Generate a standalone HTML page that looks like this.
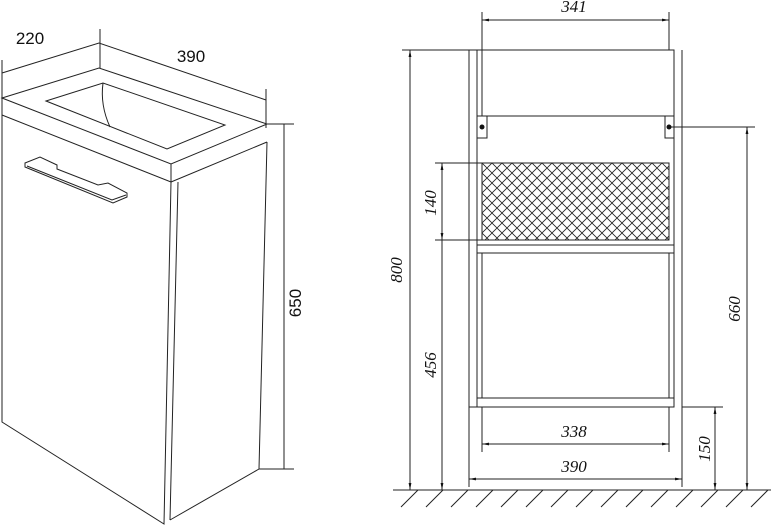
<!DOCTYPE html>
<html><head><meta charset="utf-8"><style>
html,body{margin:0;padding:0;background:#fff;}
svg{display:block;}
.s{font-family:"Liberation Sans",sans-serif;font-size:17px;fill:#111;}
.i{font-family:"Liberation Serif",serif;font-style:italic;font-size:17px;fill:#111;}
</style></head><body>
<svg width="771" height="526" viewBox="0 0 771 526" xmlns="http://www.w3.org/2000/svg">
<defs>
<pattern id="hatch" width="10" height="10" patternUnits="userSpaceOnUse" x="482" y="163">
<path d="M0 0L10 10M10 0L0 10" stroke="#222" stroke-width="0.8"/>
</pattern>
<marker id="a" viewBox="0 0 10 10" refX="10" refY="5" markerWidth="7" markerHeight="7" orient="auto-start-reverse"><path d="M0 3L10 5L0 7z" fill="#111"/></marker>
</defs>
<g fill="none" stroke="#222" stroke-width="1">
<!-- left iso view -->
<path d="M2 60V115M100 29V68M266 89V128M2 73L99 43L266 100"/>
<path d="M2 98L99 68L267 124L171 164Z"/>
<path d="M2 115L171 182V164M171 182L267 142"/>
<path d="M46 101L103 83L225 125L167 149Z"/>
<path d="M103 83Q100 105 110 127"/>
<path d="M25 163L40 157L57 165L57 169L98 185L108 183L127 193L127 197L113 203L25 167Z"/>
<path d="M27 166L112 200L126 195"/>
<path d="M2 115V422L164 524L171 182M178 182L170 520M267 142L259 469L170 520"/>
<path d="M266 124H294M259 469H294M284 124V469"/>
<!-- right elevation -->
<path d="M482 12V116M669 12V50"/>
<path d="M482 20H669" marker-start="url(#a)" marker-end="url(#a)"/>
<rect x="477" y="50" width="197" height="66"/>
<path d="M469 50V407H477V50M674 116V407M682 50V408"/>
<path d="M477 116H487V138H477M674 116H665V138H674"/>
<path d="M669 127H755"/>
<rect x="477" y="245" width="197" height="8"/>
<path d="M482 253V398M669 253V398"/>
<rect x="477" y="398" width="197" height="9"/>
<path d="M482 407V452M669 407V452M469 407V487M682 408V487"/>
<path d="M482 444H669" marker-start="url(#a)" marker-end="url(#a)"/>
<path d="M469 479H682" marker-start="url(#a)" marker-end="url(#a)"/>
<path d="M682 407H723"/>
<path d="M715 407V490" marker-start="url(#a)" marker-end="url(#a)"/>
<path d="M747 127V490" marker-start="url(#a)" marker-end="url(#a)"/>
<path d="M402 50H477"/>
<path d="M410 50V490" marker-start="url(#a)" marker-end="url(#a)"/>
<path d="M435 163H482M435 240H482"/>
<path d="M442 163V240" marker-start="url(#a)" marker-end="url(#a)"/>
<path d="M442 240V490" marker-end="url(#a)"/>
<path d="M393 490H771"/>
<path d="M418 490l-17 17M443 490l-17 17M468 490l-17 17M493 490l-17 17M518 490l-17 17M543 490l-17 17M568 490l-17 17M593 490l-17 17M618 490l-17 17M643 490l-17 17M668 490l-17 17M693 490l-17 17M718 490l-17 17M743 490l-17 17M768 490l-17 17"/>
</g>
<rect x="482" y="163" width="187" height="77" fill="url(#hatch)" stroke="#222"/>
<circle cx="482" cy="127" r="2.5" fill="#111"/>
<circle cx="669" cy="127" r="2.5" fill="#111"/>
<text class="s" x="30" y="44" text-anchor="middle">220</text>
<text class="s" x="191" y="62" text-anchor="middle">390</text>
<text class="s" transform="translate(301 303) rotate(-90)" text-anchor="middle">650</text>
<text class="i" x="574" y="12" text-anchor="middle">341</text>
<text class="i" x="574" y="437" text-anchor="middle">338</text>
<text class="i" x="574" y="472" text-anchor="middle">390</text>
<text class="i" transform="translate(402 270) rotate(-90)" text-anchor="middle">800</text>
<text class="i" transform="translate(436 203) rotate(-90)" text-anchor="middle">140</text>
<text class="i" transform="translate(436 365) rotate(-90)" text-anchor="middle">456</text>
<text class="i" transform="translate(740 309) rotate(-90)" text-anchor="middle">660</text>
<text class="i" transform="translate(710 449) rotate(-90)" text-anchor="middle">150</text>
</svg>
</body></html>
